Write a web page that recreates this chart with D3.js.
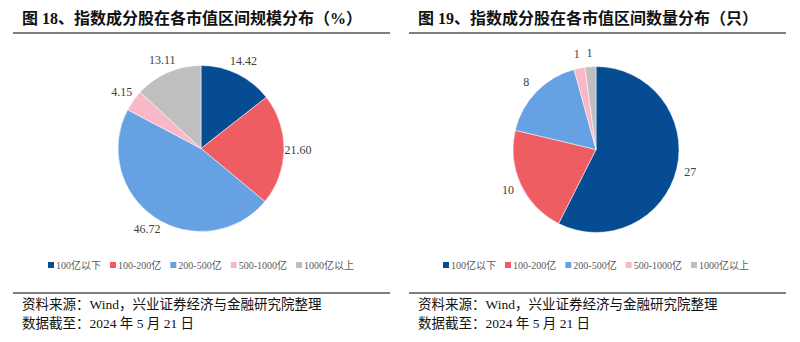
<!DOCTYPE html>
<html>
<head>
<meta charset="utf-8">
<script src="https://cdn.jsdelivr.net/npm/d3@7/dist/d3.min.js"></script>
<style>
  html, body { margin: 0; padding: 0; background: #fff; }
  svg { display: block; }
</style>
</head>
<body>
<svg id="chart" width="800" height="342"></svg>
<script>
// Market-cap buckets shared by both pies
const categories = ["100亿以下", "100-200亿", "200-500亿", "500-1000亿", "1000亿以上"];
const scaleShare = [14.42, 21.60, 46.72, 4.15, 13.11];   // % of index weight
const stockCount = [27, 10, 8, 1, 1];                   // number of constituents
const colors = ["#054C93", "#EE5D61", "#65A1E3", "#F8B8C8", "#BFBFBF"];

const titles = [
  "图 18、指数成分股在各市值区间规模分布（%）",
  "图 19、指数成分股在各市值区间数量分布（只）"
];
const sourceNote = "资料来源：Wind，兴业证券经济与金融研究院整理";
const dateNote = "数据截至：2024 年 5 月 21 日";

const svg = d3.select("#chart");
const serif = "'Liberation Serif', 'Times New Roman', 'Noto Sans CJK SC', serif";

const panels = [
  { x0: 13, x1: 390, textX: 22, cx: 201, cy: 148.5, values: scaleShare, fmt: d3.format(".2f"), title: titles[0] },
  { x0: 409, x1: 786, textX: 418, cx: 596, cy: 149.5, values: stockCount, fmt: d3.format("d"), title: titles[1] }
];

const radius = 83;
const labelRadius = 97;

const pie = d3.pie().sort(null).value(d => d);
const arc = d3.arc().innerRadius(0).outerRadius(radius);
const labelArc = d3.arc().innerRadius(labelRadius).outerRadius(labelRadius);

panels.forEach(p => {
  const g = svg.append("g");

  // header
  g.append("text")
    .attr("x", p.textX).attr("y", 24)
    .attr("font-family", serif)
    .attr("font-weight", "bold")
    .attr("font-size", 16)
    .attr("fill", "#111")
    .text(p.title);
  g.append("line")
    .attr("x1", p.x0).attr("x2", p.x1)
    .attr("y1", 33).attr("y2", 33)
    .attr("stroke", "#555").attr("stroke-width", 1.5);

  // pie
  const arcs = pie(p.values);
  const pg = g.append("g").attr("transform", `translate(${p.cx},${p.cy})`);
  pg.selectAll("path")
    .data(arcs)
    .join("path")
    .attr("d", arc)
    .attr("fill", (d, i) => colors[i])
    .attr("stroke", "#fff")
    .attr("stroke-width", 0.5);

  pg.selectAll("text.val")
    .data(arcs)
    .join("text")
    .attr("class", "val")
    .attr("transform", d => `translate(${labelArc.centroid(d)})`)
    .attr("text-anchor", "middle")
    .attr("dominant-baseline", "central")
    .attr("font-family", serif)
    .attr("font-size", 12)
    .attr("fill", "#404040")
    .text(d => p.fmt(d.data));

  // legend, centred under the pie
  const lg = g.append("g").attr("transform", `translate(0,265)`);
  const items = lg.selectAll("g.item")
    .data(categories)
    .join("g")
    .attr("class", "item");
  items.append("rect")
    .attr("y", -3).attr("width", 6).attr("height", 6)
    .attr("fill", (d, i) => colors[i]);
  items.append("text")
    .attr("x", 8)
    .attr("dominant-baseline", "central")
    .attr("font-family", serif)
    .attr("font-size", 10)
    .attr("fill", "#595959")
    .text(d => d);
  let cursor = 0;
  const gap = 9;
  const offsets = [];
  items.each(function () {
    const w = 8 + d3.select(this).select("text").node().getComputedTextLength();
    offsets.push(cursor);
    cursor += w + gap;
  });
  const total = cursor - gap;
  items.attr("transform", (d, i) => `translate(${offsets[i] + p.cx - total / 2},0)`);

  // footer
  g.append("line")
    .attr("x1", p.x0).attr("x2", p.x1)
    .attr("y1", 293).attr("y2", 293)
    .attr("stroke", "#555").attr("stroke-width", 1.5);
  g.append("text")
    .attr("x", p.textX).attr("y", 309)
    .attr("font-family", serif)
    .attr("font-size", 13.5)
    .attr("fill", "#111")
    .text(sourceNote);
  g.append("text")
    .attr("x", p.textX).attr("y", 328)
    .attr("font-family", serif)
    .attr("font-size", 13.5)
    .attr("fill", "#111")
    .text(dateNote);
});
</script>
</body>
</html>
